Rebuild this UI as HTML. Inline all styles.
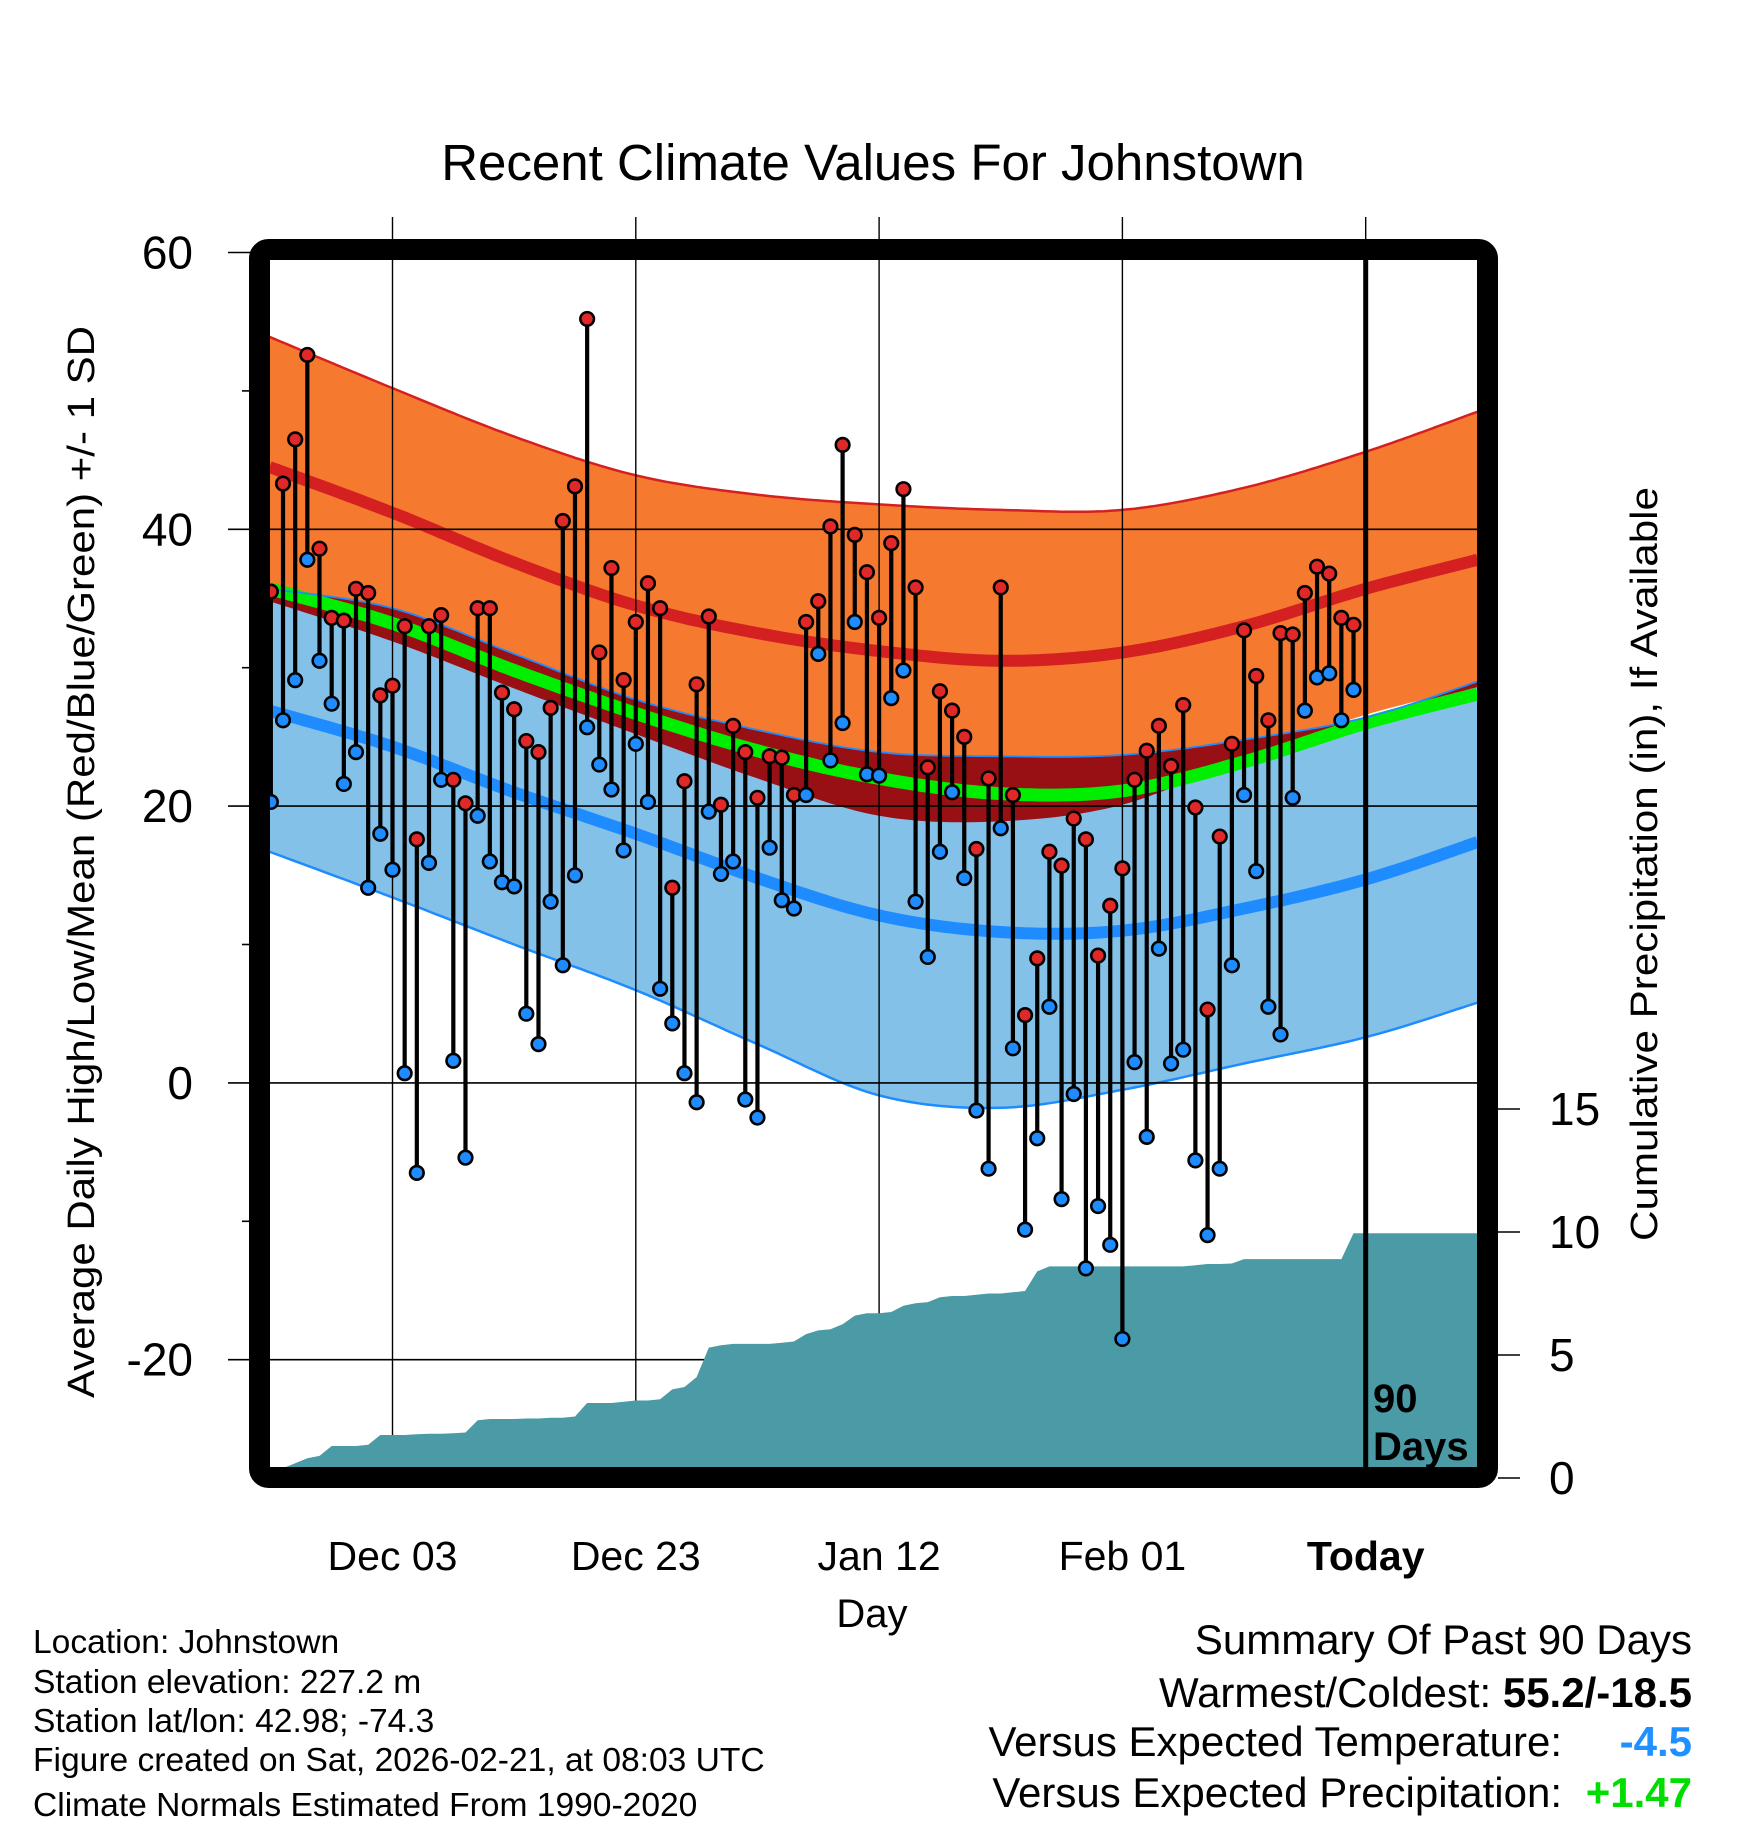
<!DOCTYPE html>
<html><head><meta charset="utf-8"><style>
html,body{margin:0;padding:0;background:#fff;}
svg{display:block;font-family:"Liberation Sans",sans-serif;}
</style></head><body>
<svg id="chart" width="1748" height="1828" viewBox="0 0 1748 1828" xmlns="http://www.w3.org/2000/svg">
<defs><clipPath id="plotclip"><rect x="270" y="260" width="1207" height="1207"/></clipPath></defs>
<g id="bands" clip-path="url(#plotclip)"></g>
<g id="grid"></g>
<g id="precip" clip-path="url(#plotclip)"></g>
<g id="marks"></g>
<g id="axes"></g>
<text x="873" y="180" font-size="51" text-anchor="middle">Recent Climate Values For Johnstown</text>
<text transform="translate(94,862) rotate(-90)" font-size="38" text-anchor="middle" textLength="1072" lengthAdjust="spacingAndGlyphs">Average Daily High/Low/Mean (Red/Blue/Green) +/- 1 SD</text>
<text transform="translate(1657,864) rotate(-90)" font-size="38" text-anchor="middle" textLength="754" lengthAdjust="spacingAndGlyphs">Cumulative Precipitation (in), If Available</text>
<text x="872" y="1627" font-size="40" text-anchor="middle">Day</text>
<g font-size="33.6">
<text x="33" y="1653">Location: Johnstown</text>
<text x="33" y="1693">Station elevation: 227.2 m</text>
<text x="33" y="1732">Station lat/lon: 42.98; -74.3</text>
<text x="33" y="1771">Figure created on Sat, 2026-02-21, at 08:03 UTC</text>
<text x="33" y="1816">Climate Normals Estimated From 1990-2020</text>
</g>
<g font-size="42" text-anchor="end">
<text x="1692" y="1654">Summary Of Past 90 Days</text>
<text x="1692" y="1707">Warmest/Coldest: <tspan font-weight="bold">55.2/-18.5</tspan></text>
<text x="1562" y="1756">Versus Expected Temperature:</text>
<text x="1692" y="1756" font-weight="bold" fill="#1E90FF">-4.5</text>
<text x="1562" y="1807">Versus Expected Precipitation:</text>
<text x="1692" y="1807" font-weight="bold" fill="#00DD00">+1.47</text>
</g>
</svg>
<script>
// ---- data ----
const highs = [35.5,43.3,46.5,52.6,38.6,33.6,33.4,35.7,35.4,28.0,28.7,33.0,17.6,33.0,33.8,21.9,20.2,34.3,34.3,28.2,27.0,24.7,23.9,27.1,40.6,43.1,55.2,31.1,37.2,29.1,33.3,36.1,34.3,14.1,21.8,28.8,33.7,20.1,25.8,23.9,20.6,23.6,23.5,20.8,33.3,34.8,40.2,46.1,39.6,36.9,33.6,39.0,42.9,35.8,22.8,28.3,26.9,25.0,16.9,22.0,35.8,20.8,4.9,9.0,16.7,15.7,19.1,17.6,9.2,12.8,15.5,21.9,24.0,25.8,22.9,27.3,19.9,5.3,17.8,24.5,32.7,29.4,26.2,32.5,32.4,35.4,37.3,36.8,33.6,33.1];
const lows = [20.3,26.2,29.1,37.8,30.5,27.4,21.6,23.9,14.1,18.0,15.4,0.7,-6.5,15.9,21.9,1.6,-5.4,19.3,16.0,14.5,14.2,5.0,2.8,13.1,8.5,15.0,25.7,23.0,21.2,16.8,24.5,20.3,6.8,4.3,0.7,-1.4,19.6,15.1,16.0,-1.2,-2.5,17.0,13.2,12.6,20.8,31.0,23.3,26.0,33.3,22.3,22.2,27.8,29.8,13.1,9.1,16.7,21.0,14.8,-2.0,-6.2,18.4,2.5,-10.6,-4.0,5.5,-8.4,-0.8,-13.4,-8.9,-11.7,-18.5,1.5,-3.9,9.7,1.4,2.4,-5.6,-11.0,-6.2,8.5,20.8,15.3,5.5,3.5,20.6,26.9,29.3,29.6,26.2,28.4];
const precipCum = [0,0.4,0.6,0.8,0.9,1.3,1.3,1.3,1.35,1.75,1.75,1.75,1.78,1.8,1.8,1.82,1.85,2.35,2.4,2.4,2.4,2.42,2.42,2.45,2.45,2.5,3.05,3.05,3.05,3.1,3.15,3.15,3.2,3.6,3.7,4.1,5.3,5.4,5.45,5.45,5.45,5.45,5.5,5.55,5.85,6.0,6.05,6.25,6.6,6.7,6.7,6.75,7.0,7.1,7.15,7.35,7.4,7.4,7.45,7.5,7.5,7.55,7.6,8.4,8.6,8.6,8.6,8.6,8.6,8.6,8.6,8.6,8.6,8.6,8.6,8.6,8.65,8.7,8.7,8.72,8.9,8.9,8.9,8.9,8.9,8.9,8.9,8.9,8.9,9.95];
const normDays = [-90.1,-80,-70,-60,-50,-40,-30,-20,-10,0,9.2];
const hiPlus  = [53.9,50.2,46.7,43.9,42.5,41.8,41.4,41.4,43.0,45.6,48.5];
const hiMean  = [44.5,41.2,37.6,34.5,32.5,31.2,30.5,31.1,33.0,35.7,37.8];
const avgMean = [35.7,33.2,29.8,26.7,24.0,22.0,20.9,21.1,23.2,26.0,28.1];
const hiMinus = [34.8,31.9,28.5,25.2,22.0,19.3,18.9,20.1,23.5,26.6,28.6];
const loPlus  = [35.7,34.3,31.0,27.7,25.5,23.9,23.6,23.7,24.8,26.4,29.0];
const loMean  = [26.9,24.3,21.0,18.0,14.8,12.1,10.9,11.0,12.6,14.7,17.4];
const loMinus = [16.7,13.4,10.0,6.7,2.8,-0.9,-1.8,-0.5,1.4,3.3,5.8];
const yTicks = [60,40,20,0,-20];
const yMinor = [50,30,10,-10];
const pTicks = [0,5,10,15];
const xTickDays = [-80,-60,-40,-20,0];
const xTickLabels = ["Dec 03","Dec 23","Jan 12","Feb 01","Today"];

// ---- scales ----
const X = d => 1365.7 + d*12.165;
const Y = t => 252.5 + (60-t)*13.84;
const YP = p => 1478 - p*24.6;
const NS = "http://www.w3.org/2000/svg";
function mk(tag, attrs, parent){const e=document.createElementNS(NS,tag);for(const k in attrs)e.setAttribute(k,attrs[k]);parent.appendChild(e);return e;}

function curvePts(vals){
  const pts = normDays.map((d,i)=>[X(d),Y(vals[i])]);
  const out=[];
  for(let i=0;i<pts.length-1;i++){
    const p0=pts[Math.max(0,i-1)],p1=pts[i],p2=pts[i+1],p3=pts[Math.min(pts.length-1,i+2)];
    for(let s=0;s<20;s++){const t=s/20,t2=t*t,t3=t2*t;
      const f=(a,b,c,d)=>0.5*((2*b)+(-a+c)*t+(2*a-5*b+4*c-d)*t2+(-a+3*b-3*c+d)*t3);
      out.push([f(p0[0],p1[0],p2[0],p3[0]),f(p0[1],p1[1],p2[1],p3[1])]);}
  }
  out.push(pts[pts.length-1]);return out;
}
const toD = pts => pts.map((p,i)=>(i?'L':'M')+p[0].toFixed(1)+' '+p[1].toFixed(1)).join(' ');
function band(top,bot){const a=curvePts(top),b=curvePts(bot).reverse();return toD(a)+' '+toD(b).replace('M','L')+' Z';}

const bands=document.getElementById('bands');
let e;
e=mk('path',{d:band(hiPlus,hiMinus),fill:'#F57A2F'},bands);


e=mk('path',{d:band(loPlus,loMinus),fill:'#84C1E8'},bands);


const ovTop=loPlus, ovBot=hiMinus.map((v,i)=>Math.min(v,loPlus[i]));
e=mk('path',{d:band(ovTop,ovBot),fill:'#981014'},bands);


const lines=[[hiPlus,'#D42020',2.5,'high-plus-sd-line'],[hiMean,'#D42020',12,'mean-high-line'],[avgMean,'#00EE00',13,'mean-line'],[loMean,'#1E8CFF',12,'mean-low-line'],[loPlus,'#1E8CFF',1.8,'low-plus-sd-line'],[loMinus,'#1E8CFF',2.5,'low-minus-sd-line']];
lines.forEach(l=>{e=mk('path',{d:toD(curvePts(l[0])),fill:'none',stroke:l[1],'stroke-width':l[2]},bands);

});

// grid
const grid=document.getElementById('grid');
yTicks.forEach(t=>{e=mk('line',{x1:228,x2:1487,y1:Y(t),y2:Y(t),stroke:'#000','stroke-width':1.6},grid);

});
yMinor.forEach(t=>{e=mk('line',{x1:242,x2:252,y1:Y(t),y2:Y(t),stroke:'#000','stroke-width':1.6},grid);

});
xTickDays.forEach(d=>{e=mk('line',{x1:X(d),x2:X(d),y1:217,y2:1478,stroke:'#000','stroke-width':1.4},grid);

});

// precip
const pr=document.getElementById('precip');
let pts=precipCum.map((p,i)=>[X(i-90),YP(p)]);
pts.push([1480,YP(precipCum[precipCum.length-1])]);
let pd='M'+X(-90)+' 1480 '+pts.map(p=>'L'+p[0].toFixed(1)+' '+p[1].toFixed(1)).join(' ')+' L1480 1480 Z';
e=mk('path',{d:pd,fill:'#4A9BA5'},pr);



// marks
const marks=document.getElementById('marks');
highs.forEach((h,i)=>{const x=X(i-90);
  e=mk('line',{x1:x,x2:x,y1:Y(h),y2:Y(lows[i]),stroke:'#000','stroke-width':4.2},marks);
  
  });
highs.forEach((h,i)=>{const x=X(i-90);
  e=mk('circle',{cx:x,cy:Y(h),r:6.8,fill:'#E02828',stroke:'#000','stroke-width':2.6},marks);
  
  
  e=mk('circle',{cx:x,cy:Y(lows[i]),r:6.8,fill:'#1E8CFF',stroke:'#000','stroke-width':2.6},marks);
  
  });

// axes / frame
const ax=document.getElementById('axes');
e=mk('line',{x1:X(0),x2:X(0),y1:260,y2:1467,stroke:'#000','stroke-width':5},ax);


e=mk('rect',{x:259.5,y:249.5,width:1228,height:1228,rx:9,fill:'none',stroke:'#000','stroke-width':21},ax);


yTicks.forEach(t=>{e=mk('text',{x:193,y:Y(t)+16,'font-size':46,'text-anchor':'end'},ax);e.textContent=t;

});
pTicks.forEach(p=>{e=mk('line',{x1:1498,x2:1520,y1:YP(p),y2:YP(p),stroke:'#000','stroke-width':1.6},ax);


e=mk('text',{x:1549,y:YP(p)+16,'font-size':46},ax);e.textContent=p;

});
xTickDays.forEach((d,i)=>{e=mk('text',{x:X(d),y:1570,'font-size':41,'text-anchor':'middle','font-weight':i===4?'bold':'normal'},ax);e.textContent=xTickLabels[i];

});
e=mk('text',{x:1373,y:1412,'font-size':40,'font-weight':'bold'},ax);e.textContent='90';


e=mk('text',{x:1373,y:1460,'font-size':40,'font-weight':'bold'},ax);e.textContent='Days';


</script>
</body></html>
